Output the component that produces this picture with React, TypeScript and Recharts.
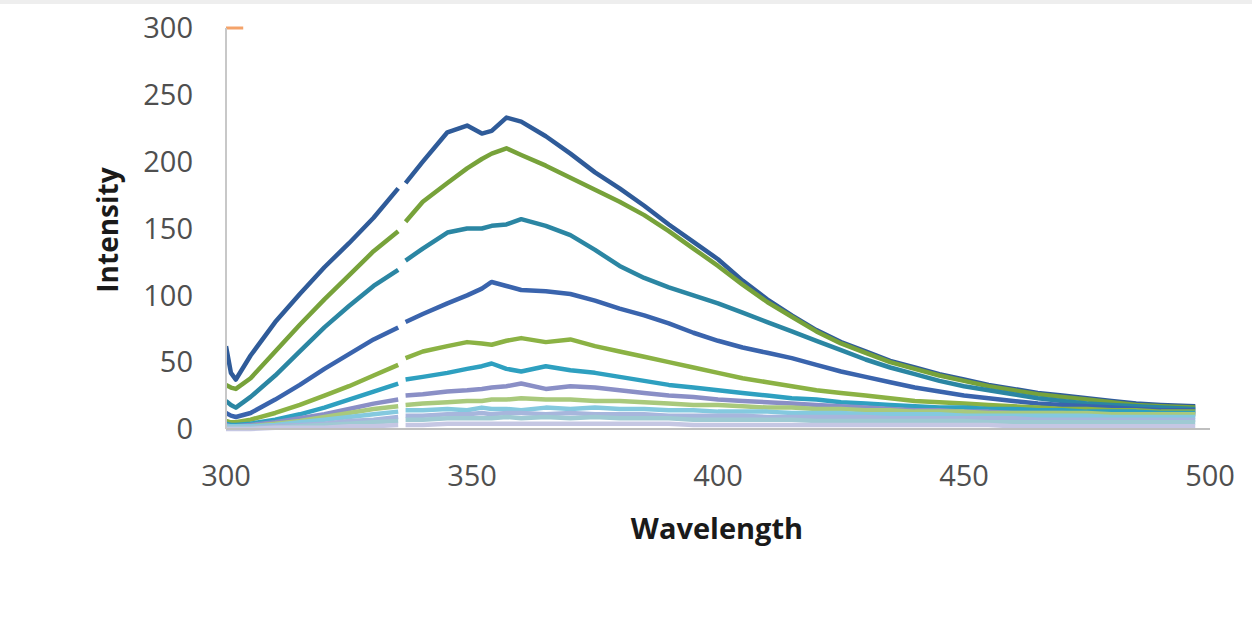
import React from 'react';
import { LineChart, Line, XAxis, YAxis } from 'recharts';

// ─── Data ──────────────────────────────────────────────────────────────────────

// wavelength grid; 335.7 is the missing reading that breaks every trace
const WAVELENGTH = [
  300, 301, 302, 305, 310, 315, 320, 325, 330, 335, 335.7, 336.5, 340, 345, 349, 352, 354, 357, 360, 365,
  370, 375, 380, 385, 390, 395, 400, 405, 410, 415, 420, 425, 430, 435, 440, 445, 450, 455, 460, 465,
  470, 475, 480, 485, 490, 497,
];

const S1 = [62, 42, 37, 55, 80, 101, 121, 139, 158, 180, null, 184, 200, 222, 227, 221, 223, 233, 230, 219,
  206, 192, 180, 167, 153, 140, 127, 111, 97, 85, 74, 65, 58, 51, 46, 41, 37, 33, 30, 27,
  25, 23, 21, 19, 18, 17];
const S2 = [33, 31, 30, 38, 58, 78, 97, 115, 133, 148, null, 155, 170, 184, 195, 202, 206, 210, 205, 197,
  188, 179, 170, 160, 148, 135, 122, 108, 95, 84, 73, 64, 57, 50, 45, 40, 36, 32, 29, 26,
  24, 22, 20, 18, 17, 16];
const S3 = [21, 18, 16, 24, 40, 58, 76, 92, 107, 119, null, 126, 135, 147, 150, 150, 152, 153, 157, 152,
  145, 134, 122, 113, 106, 100, 94, 87, 80, 73, 66, 59, 52, 46, 41, 36, 32, 29, 26, 23,
  21, 19, 18, 17, 16, 15];
const S4 = [12, 10, 9, 12, 22, 33, 45, 56, 67, 76, null, 80, 86, 94, 100, 105, 110, 107, 104, 103,
  101, 96, 90, 85, 79, 72, 66, 61, 57, 53, 48, 43, 39, 35, 31, 28, 25, 23, 21, 19,
  18, 17, 16, 15, 14, 14];
const S5 = [6, 5, 5, 7, 12, 18, 25, 32, 40, 48, null, 53, 58, 62, 65, 64, 63, 66, 68, 65,
  67, 62, 58, 54, 50, 46, 42, 38, 35, 32, 29, 27, 25, 23, 21, 20, 19, 18, 17, 16,
  15, 15, 14, 14, 13, 13];
const S6 = [4, 3, 3, 4, 7, 11, 16, 22, 28, 34, null, 37, 39, 42, 45, 47, 49, 45, 43, 47,
  44, 42, 39, 36, 33, 31, 29, 27, 25, 23, 22, 20, 19, 18, 17, 16, 16, 15, 15, 14,
  14, 13, 13, 13, 12, 12];
const S7 = [3, 2, 2, 3, 5, 8, 11, 15, 19, 22, null, 25, 26, 28, 29, 30, 31, 32, 34, 30,
  32, 31, 29, 27, 25, 24, 22, 21, 20, 19, 18, 17, 16, 15, 14, 14, 13, 13, 12, 12,
  12, 11, 11, 11, 11, 11];
const S8 = [2, 1, 1, 2, 4, 6, 9, 12, 15, 17, null, 18, 19, 20, 21, 21, 22, 22, 23, 22,
  22, 21, 21, 20, 19, 18, 18, 17, 16, 16, 15, 15, 14, 14, 13, 13, 13, 12, 12, 12,
  12, 12, 11, 11, 11, 11];
const S9 = [2, 2, 2, 2, 3, 5, 7, 9, 11, 13, null, 14, 14, 15, 14, 16, 15, 15, 14, 16,
  15, 16, 15, 15, 14, 14, 13, 13, 13, 12, 12, 12, 11, 11, 11, 11, 10, 10, 10, 10,
  10, 10, 9, 9, 9, 9];
const S10 = [1, 1, 1, 1, 2, 3, 4, 6, 7, 9, null, 10, 10, 11, 11, 12, 11, 12, 12, 11,
  12, 11, 11, 11, 10, 10, 10, 10, 9, 9, 9, 9, 9, 8, 8, 8, 8, 8, 8, 7,
  7, 7, 7, 7, 7, 7];
const S11 = [1, 1, 1, 1, 1, 2, 3, 4, 5, 6, null, 7, 7, 8, 8, 8, 8, 9, 8, 9,
  8, 9, 8, 8, 8, 7, 7, 7, 7, 7, 6, 6, 6, 6, 6, 6, 6, 5, 5, 5,
  5, 5, 5, 5, 5, 5];
const S12 = [0, 0, 0, 0, 1, 1, 1, 2, 2, 3, null, 3, 3, 4, 4, 4, 4, 4, 4, 4,
  4, 4, 4, 4, 4, 3, 3, 3, 3, 3, 3, 3, 3, 3, 3, 3, 3, 3, 2, 2,
  2, 2, 2, 2, 2, 2];

// short saturated trace pinned at the top-left corner
const ORANGE_X = [300, 303.5];
const ORANGE_Y = [300, 300];

const SERIES = [S1, S2, S3, S4, S5, S6, S7, S8, S9, S10, S11, S12];
const COLORS = [
  '#2f5b99', '#77a23a', '#2b86a3', '#3a64ad', '#8bb244', '#2ea0c0',
  '#8a8fc6', '#a9c97c', '#84c9df', '#a7b6dc', '#9fcad3', '#c5c7e3',
];

const X_TICKS = [300, 350, 400, 450, 500];
const Y_TICKS = [0, 50, 100, 150, 200, 250, 300];

const data = WAVELENGTH.map((x, i) => {
  const row: Record<string, number | null> = { x };
  SERIES.forEach((s, k) => { row['s' + k] = s[i]; });
  return row;
});
const orangeData = ORANGE_X.map((x, i) => ({ x, o: ORANGE_Y[i] }));

const FONT = '"Open Sans", "DejaVu Sans", sans-serif';
const tickStyle = { fill: '#4f4f4f', fontSize: 29, fontFamily: FONT };

export default function App() {
  return (
    <div style={{ position: 'absolute', left: 0, top: 0, width: 1252, height: 633, background: '#fff', overflow: 'hidden' }}>
      <div style={{ position: 'absolute', left: 0, top: 0, width: 1252, height: 4, background: '#eeeeee' }} />
      <LineChart
        width={1252}
        height={633}
        data={data}
        margin={{ top: 28, right: 42, left: 146, bottom: 144 }}
      >
        <XAxis
          dataKey="x"
          type="number"
          domain={[300, 500]}
          ticks={X_TICKS}
          allowDataOverflow
          height={60}
          tickLine={false}
          tickSize={0}
          tickMargin={36}
          axisLine={{ stroke: '#bfbfbf', strokeWidth: 2 }}
          tick={tickStyle}
        />
        <YAxis
          type="number"
          domain={[0, 300]}
          ticks={Y_TICKS}
          width={80}
          tickLine={false}
          tickSize={0}
          tickMargin={33}
          axisLine={{ stroke: '#c8c8c8', strokeWidth: 2 }}
          tick={tickStyle}
        />
        {SERIES.map((_, k) => (
          <Line
            key={k}
            type="linear"
            dataKey={'s' + k}
            stroke={COLORS[k]}
            strokeWidth={4.5}
            strokeLinejoin="round"
            dot={false}
            connectNulls={false}
            isAnimationActive={false}
          />
        ))}
        <Line
          data={orangeData}
          dataKey="o"
          type="linear"
          stroke="#f4a36a"
          strokeWidth={3}
          dot={false}
          isAnimationActive={false}
        />
      </LineChart>
      <div style={{
        position: 'absolute', left: 717, top: 527, transform: 'translate(-50%, -50%)',
        fontFamily: FONT, fontWeight: 700, fontSize: 29, color: '#1a1a1a', whiteSpace: 'nowrap',
      }}>Wavelength</div>
      <div style={{
        position: 'absolute', left: 107, top: 230, transform: 'translate(-50%, -50%) rotate(-90deg)',
        fontFamily: FONT, fontWeight: 700, fontSize: 28, color: '#1a1a1a', whiteSpace: 'nowrap',
      }}>Intensity</div>
    </div>
  );
}
